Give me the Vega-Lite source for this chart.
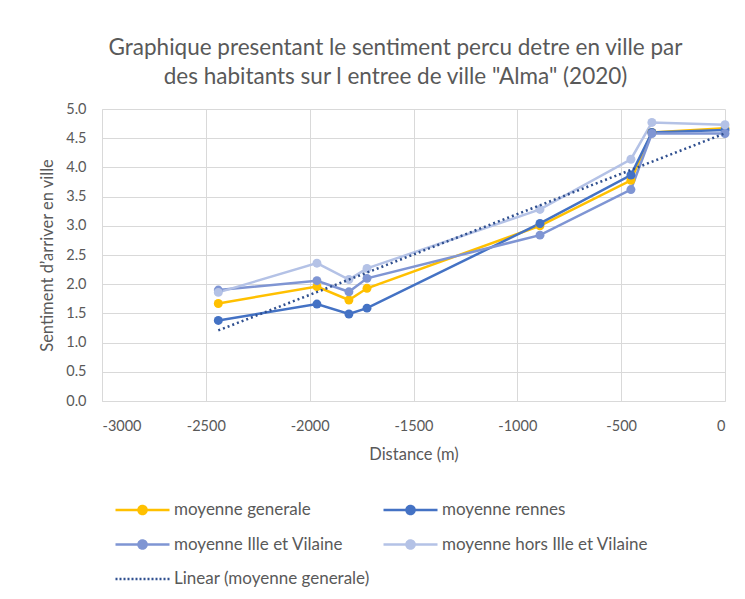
{
  "$schema": "https://vega.github.io/schema/vega-lite/v6.json",
  "autosize": {"type": "none"},
  "width": 623,
  "height": 292,
  "padding": {"left": 102, "top": 109, "right": 20, "bottom": 198},
  "background": "white",
  "config": {
    "font": "Lato",
    "view": {"stroke": null},
    "axis": {"labelColor": "#595959", "titleColor": "#595959", "labelFontSize": 14.5, "titleFontSize": 16.5, "titleFontWeight": "normal", "gridColor": "#d9d9d9", "domainColor": "#d9d9d9", "ticks": false, "labelOverlap": false}
  },
  "title": {
    "text": ["Graphique presentant le sentiment percu detre en ville par", "des habitants sur l entree de ville \"Alma\" (2020)"],
    "fontSize": 22.5,
    "fontWeight": "normal",
    "color": "#595959",
    "anchor": "middle",
    "dx": -18,
    "offset": 13,
    "lineHeight": 29
  },
  "data": {
    "values": [
      {"distance": -2440, "serie": "moyenne generale", "valeur": 1.67},
      {"distance": -1965, "serie": "moyenne generale", "valeur": 1.96},
      {"distance": -1811, "serie": "moyenne generale", "valeur": 1.73},
      {"distance": -1724, "serie": "moyenne generale", "valeur": 1.93},
      {"distance": -891, "serie": "moyenne generale", "valeur": 3.0},
      {"distance": -453, "serie": "moyenne generale", "valeur": 3.78},
      {"distance": -352, "serie": "moyenne generale", "valeur": 4.6},
      {"distance": 0, "serie": "moyenne generale", "valeur": 4.67},
      {"distance": -2440, "serie": "moyenne rennes", "valeur": 1.38},
      {"distance": -1965, "serie": "moyenne rennes", "valeur": 1.66},
      {"distance": -1811, "serie": "moyenne rennes", "valeur": 1.49},
      {"distance": -1724, "serie": "moyenne rennes", "valeur": 1.59},
      {"distance": -891, "serie": "moyenne rennes", "valeur": 3.04},
      {"distance": -453, "serie": "moyenne rennes", "valeur": 3.87},
      {"distance": -352, "serie": "moyenne rennes", "valeur": 4.6},
      {"distance": 0, "serie": "moyenne rennes", "valeur": 4.64},
      {"distance": -2440, "serie": "moyenne Ille et Vilaine", "valeur": 1.9},
      {"distance": -1965, "serie": "moyenne Ille et Vilaine", "valeur": 2.06},
      {"distance": -1811, "serie": "moyenne Ille et Vilaine", "valeur": 1.87},
      {"distance": -1724, "serie": "moyenne Ille et Vilaine", "valeur": 2.1},
      {"distance": -891, "serie": "moyenne Ille et Vilaine", "valeur": 2.84},
      {"distance": -453, "serie": "moyenne Ille et Vilaine", "valeur": 3.62},
      {"distance": -352, "serie": "moyenne Ille et Vilaine", "valeur": 4.58},
      {"distance": 0, "serie": "moyenne Ille et Vilaine", "valeur": 4.58},
      {"distance": -2440, "serie": "moyenne hors Ille et Vilaine", "valeur": 1.86},
      {"distance": -1965, "serie": "moyenne hors Ille et Vilaine", "valeur": 2.36},
      {"distance": -1811, "serie": "moyenne hors Ille et Vilaine", "valeur": 2.08},
      {"distance": -1724, "serie": "moyenne hors Ille et Vilaine", "valeur": 2.27},
      {"distance": -891, "serie": "moyenne hors Ille et Vilaine", "valeur": 3.28},
      {"distance": -453, "serie": "moyenne hors Ille et Vilaine", "valeur": 4.14},
      {"distance": -352, "serie": "moyenne hors Ille et Vilaine", "valeur": 4.77},
      {"distance": 0, "serie": "moyenne hors Ille et Vilaine", "valeur": 4.73}
    ]
  },
  "encoding": {
    "x": {"field": "distance", "type": "quantitative", "title": "Distance (m)", "scale": {"domain": [-3000, 0], "nice": false}, "axis": {"values": [-3000, -2500, -2000, -1500, -1000, -500, 0], "labelExpr": "datum.value < 0 ? '-' + abs(datum.value) : '' + datum.value", "labelPadding": 18, "titlePadding": 14}},
    "y": {"field": "valeur", "type": "quantitative", "title": "Sentiment d’arriver en ville", "scale": {"domain": [0, 5], "nice": false}, "axis": {"values": [0, 0.5, 1, 1.5, 2, 2.5, 3, 3.5, 4, 4.5, 5], "format": ".1f", "labelPadding": 16, "titlePadding": 10}}
  },
  "layer": [
    {
      "mark": {"type": "line", "strokeWidth": 2.5},
      "encoding": {
        "color": {
          "field": "serie", "type": "nominal",
          "scale": {
            "domain": ["moyenne generale", "moyenne rennes", "moyenne Ille et Vilaine", "moyenne hors Ille et Vilaine", "Linear (moyenne generale)"],
            "range": ["#FFC000", "#4472C4", "#7F95D3", "#B4C2E6", "#2F4F8F"]
          },
          "legend": {
            "title": null,
            "orient": "none",
            "legendX": 12,
            "legendY": 391,
            "direction": "horizontal",
            "columns": 2,
            "padding": 0,
            "gridAlign": "each",
            "columnPadding": 12,
            "rowPadding": 14.5,
            "clipHeight": 20,
            "labelFontSize": 17,
            "labelLimit": 400,
            "labelColor": "#595959",
            "labelOffset": 3,
            "symbolSize": 2916,
            "symbolStrokeWidth": 2.5,
            "symbolType": "M-1,0H1M-0.15,0A0.15,0.15 0 1,0 0.15,0A0.15,0.15 0 1,0 -0.15,0",
            "encode": {
              "symbols": {
                "update": {
                  "shape": {"signal": "datum.value === 'Linear (moyenne generale)' ? 'M-1,0H1' : 'M-1,0H1M-0.15,0A0.15,0.15 0 1,0 0.15,0A0.15,0.15 0 1,0 -0.15,0'"},
                  "fill": {"signal": "datum.value === 'Linear (moyenne generale)' ? 'transparent' : scale('color', datum.value)"},
                  "stroke": {"signal": "scale('color', datum.value)"},
                  "strokeDash": {"signal": "datum.value === 'Linear (moyenne generale)' ? [2, 2] : [1, 0]"},
                  "strokeWidth": {"value": 2.5},
                  "opacity": {"value": 1}
                }
              }
            }
          }
        }
      }
    },
    {
      "mark": {"type": "point", "filled": true, "size": 80, "opacity": 1},
      "encoding": {
        "color": {"field": "serie", "type": "nominal", "legend": null}
      }
    },
    {
      "transform": [
        {"filter": "datum.serie === 'moyenne generale'"},
        {"regression": "valeur", "on": "distance"}
      ],
      "mark": {"type": "line", "strokeWidth": 2.5, "strokeDash": [2, 3], "color": "#2F4F8F"},
      "encoding": {}
    }
  ]
}
